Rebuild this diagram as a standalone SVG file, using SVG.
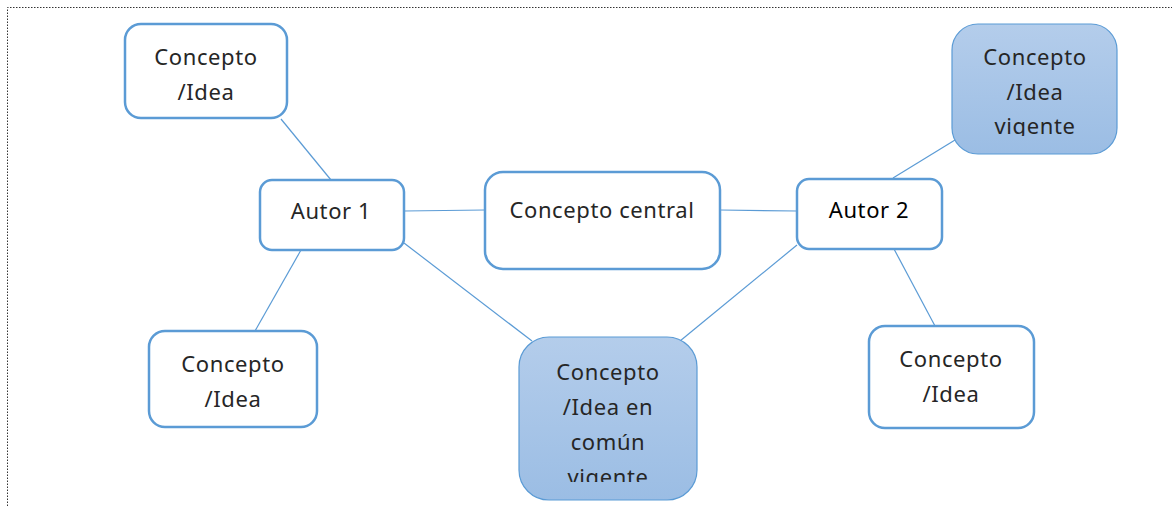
<svg xmlns="http://www.w3.org/2000/svg" width="1172" height="506" viewBox="0 0 1172 506">
<style>
.box{fill:#ffffff;stroke:#5B9BD5;stroke-width:2.5}
.fill{fill:url(#g);stroke:#5B9BD5;stroke-width:1.2}
.t{font-family:"Noto Sans","Open Sans",sans-serif;font-size:22px;letter-spacing:0.6px;fill:#262626;text-anchor:middle}
.c line{stroke:#5B9BD5;stroke-width:1.2}
</style>
<defs>
<linearGradient id="g" x1="0" y1="0" x2="0" y2="1">
<stop offset="0" stop-color="#B4CDEB"/>
<stop offset="1" stop-color="#9BBDE4"/>
</linearGradient>
<clipPath id="c1"><rect x="940" y="20" width="200" height="116"/></clipPath>
<clipPath id="c2"><rect x="510" y="330" width="200" height="152"/></clipPath>
</defs>
<rect x="0" y="0" width="1172" height="506" fill="#ffffff"/>
<path d="M7.5 506 V7.5 H1172" fill="none" stroke="#333" stroke-width="1" stroke-dasharray="1.5 1.5"/>
<g class="c" id="connectors">
<line x1="281" y1="119" x2="331" y2="180"/>
<line x1="301" y1="250" x2="255" y2="331"/>
<line x1="404" y1="211" x2="485" y2="210"/>
<line x1="404" y1="243" x2="532" y2="341"/>
<line x1="720" y1="210" x2="797" y2="211"/>
<line x1="797" y1="245" x2="680" y2="341"/>
<line x1="893" y1="178" x2="955" y2="140"/>
<line x1="894" y1="249" x2="935" y2="326"/>
</g>
<g id="n1"><rect class="box" x="125" y="24" width="162" height="94" rx="16"/>
<text class="t" x="206" y="65">Concepto</text><text class="t" x="206" y="100">/Idea</text></g>
<g id="autor1"><rect class="box" x="260" y="180" width="144" height="70" rx="12"/>
<text class="t" x="331" y="219">Autor 1</text></g>
<g id="central"><rect class="box" x="485" y="172" width="235" height="97" rx="18"/>
<text class="t" x="602" y="218">Concepto central</text></g>
<g id="autor2"><rect class="box" x="797" y="179" width="145" height="70" rx="12"/>
<text class="t" x="869" y="218" style="fill:#000">Autor 2</text></g>
<g id="n2"><rect class="fill" x="952" y="24" width="165" height="130" rx="26"/>
<g clip-path="url(#c1)"><text class="t" x="1035" y="65">Concepto</text><text class="t" x="1035" y="100">/Idea</text><text class="t" x="1035" y="134">vigente</text></g></g>
<g id="n3"><rect class="fill" x="519" y="337" width="178" height="163" rx="30"/>
<g clip-path="url(#c2)"><text class="t" x="608" y="380">Concepto</text><text class="t" x="608" y="415">/Idea en</text><text class="t" x="608" y="450">común</text><text class="t" x="608" y="485">vigente</text></g></g>
<g id="n4"><rect class="box" x="149" y="331" width="168" height="96" rx="16"/>
<text class="t" x="233" y="372">Concepto</text><text class="t" x="233" y="407">/Idea</text></g>
<g id="n5"><rect class="box" x="869" y="326" width="165" height="102" rx="16"/>
<text class="t" x="951" y="367">Concepto</text><text class="t" x="951" y="402">/Idea</text></g>
</svg>
